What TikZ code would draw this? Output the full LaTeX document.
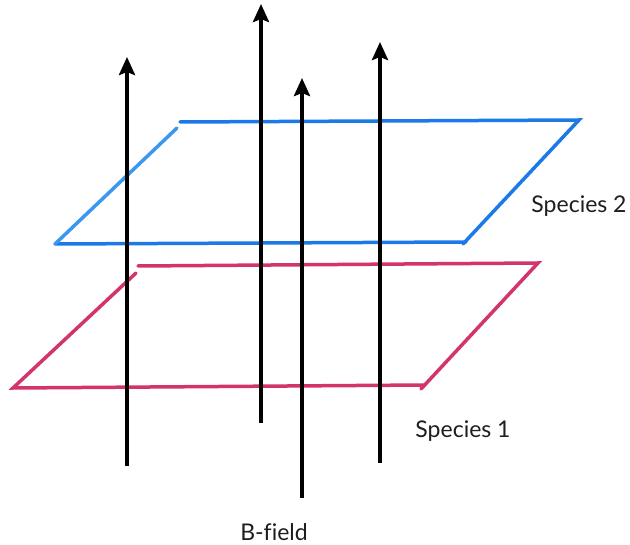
\documentclass[tikz,border=0pt]{standalone}
\usepackage{fontspec}
\setmainfont{Lato}[Ligatures=NoCommon]
\usepackage{tikz}
\usetikzlibrary{arrows.meta}
\definecolor{bluesheet}{RGB}{28, 122, 232}
\definecolor{bluelight}{RGB}{58, 152, 240}
\definecolor{pinksheet}{RGB}{212, 52, 110}
\definecolor{textgrey}{RGB}{30, 30, 30}

\begin{document}
\begin{tikzpicture}[
   x=1pt, y=-1pt,
   sheet/.style={line width=3.5, line cap=round},
   field/.style={-{Stealth[length=18, width=16, inset=3]}, black, line width=4},
   lbl/.style={text=textgrey, font=\fontsize{23}{27}\selectfont, inner sep=0}
  ]

  \useasboundingbox (0, 0) rectangle (630, 545);

  % Species 2 (upper sheet)
  \coordinate (b1) at (180, 122);
  \coordinate (b2) at (579, 120);
  \coordinate (b3) at (463, 244);
  \coordinate (b4) at (466, 242);
  \coordinate (b5) at (55, 244);
  \coordinate (b6) at (177, 128);
  \draw[sheet, bluesheet] (b1) -- (b2) -- (b3);
  \draw[sheet, bluesheet] (b4) -- (b5);
  \draw[sheet, bluelight] (b5) -- (b6);

  % Species 1 (lower sheet)
  \coordinate (p1) at (138, 266);
  \coordinate (p2) at (538, 263);
  \coordinate (p3) at (421, 389);
  \coordinate (p4) at (425, 385);
  \coordinate (p5) at (13, 388);
  \coordinate (p6) at (136, 273);
  \draw[sheet, pinksheet] (p1) -- (p2) -- (p3);
  \draw[sheet, pinksheet] (p4) -- (p5) -- (p6);

  % Field lines
  \coordinate (f1a) at (127, 466);  \coordinate (f1b) at (127, 57);
  \coordinate (f2a) at (261, 423);  \coordinate (f2b) at (261, 4);
  \coordinate (f3a) at (302, 498);  \coordinate (f3b) at (302, 78);
  \coordinate (f4a) at (380, 463);  \coordinate (f4b) at (380, 42);
  \foreach \B/\E in {f1a/f1b, f2a/f2b, f3a/f3b, f4a/f4b} {
    \draw[field] (\B) -- (\E);
  }

  \node (S2) at (579, 206) [lbl] {Species 2};
  \node (S1) at (463, 431) [lbl] {Species 1};
  \node (BF) at (274, 532) [lbl] {B-field};

\end{tikzpicture}
\end{document}
